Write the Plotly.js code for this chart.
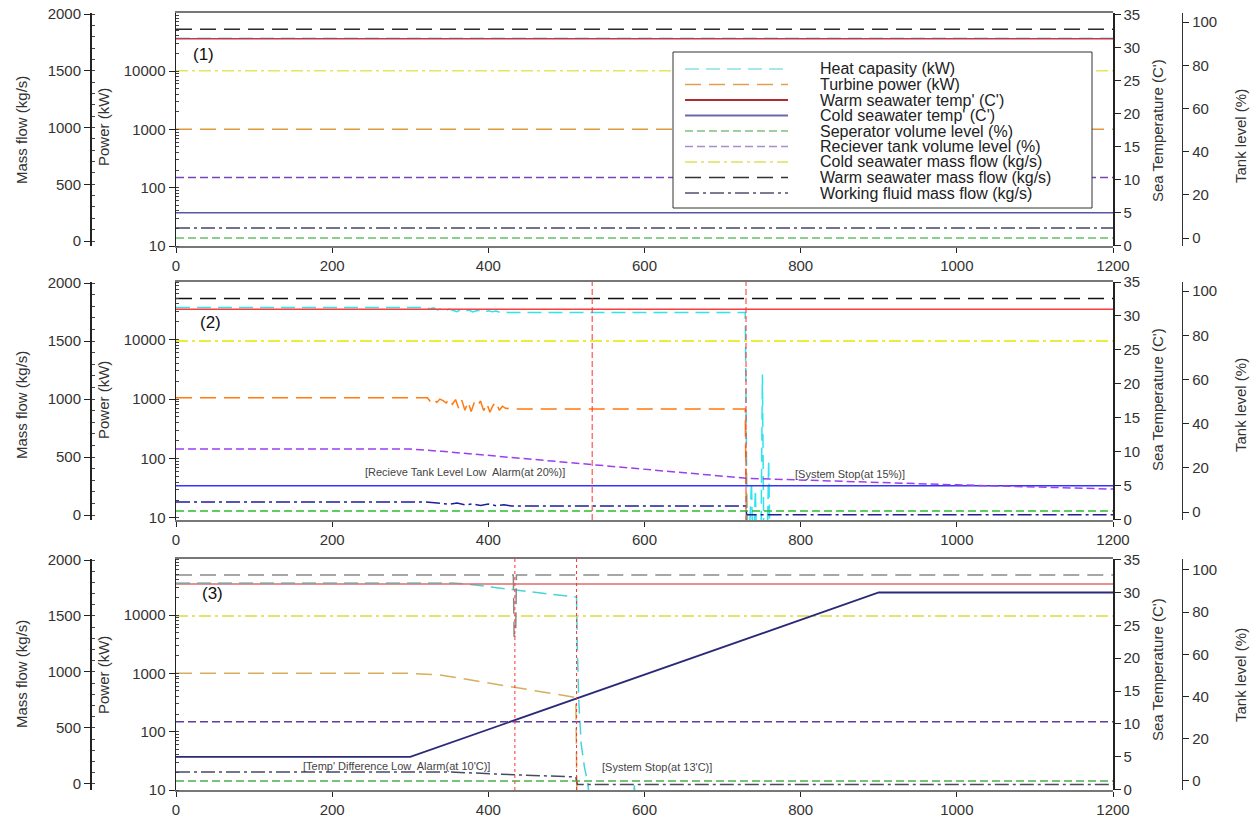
<!DOCTYPE html>
<html>
<head>
<meta charset="utf-8">
<script src="https://cdn.plot.ly/plotly-3.0.1.min.js"></script>
<style>html,body{margin:0;padding:0;background:#fff}#chart{width:1257px;height:818px}</style>
</head>
<body>
<div id="chart"></div>
<script>
// ---------------- DATA ----------------
const seriesNames = ['Heat capasity (kW)', 'Turbine power (kW)', "Warm seawater temp' (C')", "Cold seawater temp' (C')",
  'Seperator volume level (%)', 'Reciever tank volume level (%)', 'Cold seawater mass flow (kg/s)',
  'Warm seawater mass flow (kg/s)', 'Working fluid mass flow (kg/s)'];
const seriesAxis = ['power', 'power', 'temp', 'temp', 'tank', 'tank', 'mass', 'mass', 'mass'];

// Panel (1): normal operation
const p1_t = [0, 1200];
const p1_heat = [36500, 36500];
const p1_turbine = [1000, 1000];
const p1_warmTemp = [31.4, 31.4];
const p1_coldTemp = [5, 5];
const p1_separator = [0, 0];
const p1_receiver = [28, 28];
const p1_coldFlow = [1500, 1500];
const p1_warmFlow = [1865, 1865];
const p1_workFlow = [114, 114];

// Panel (2): receiver tank level drop
const p2_heat_t = [0, 320, 325, 330, 335, 340, 345, 350, 355, 360, 365, 370, 375, 380, 385, 390, 395, 400, 405, 410, 415, 420, 425, 432, 729, 731, 733, 737, 739, 742, 744, 749, 751, 753, 757, 759, 761, 1200];
const p2_heat = [34600, 34600, 33000, 34200, 31500, 33600, 30500, 32600, 31000, 29600, 32000, 30000, 31600, 29200, 30600, 31000, 29000, 30600, 29500, 30200, 28800, 29600, 28600, 28500, 28500, 30, 2, 40, 2, 30, 2, 2, 2600, 2, 2, 95, 2, 2];
const p2_turbine_t = [0, 322, 326, 330, 334, 338, 342, 346, 350, 354, 358, 362, 366, 370, 374, 378, 382, 386, 390, 394, 398, 402, 406, 410, 414, 418, 422, 428, 432, 729, 731, 1200];
const p2_turbine = [1050, 1050, 900, 1020, 880, 1000, 940, 860, 1010, 820, 980, 700, 960, 650, 900, 620, 880, 760, 930, 640, 850, 600, 780, 900, 650, 760, 700, 680, 680, 680, 2, 2];
const p2_t = [0, 1200];
const p2_warmTemp = [31.0, 31.0];
const p2_coldTemp = [5, 5];
const p2_separator = [0.5, 0.5];
const p2_receiver_t = [0, 300, 340, 533, 730, 1000, 1200];
const p2_receiver = [28.5, 28.5, 27.5, 21.5, 15.3, 12.3, 10.4];
const p2_coldFlow = [1500, 1500];
const p2_warmFlow = [1866, 1866];
const p2_workFlow_t = [0, 320, 340, 350, 360, 370, 380, 390, 400, 410, 420, 430, 729, 731, 1200];
const p2_workFlow = [112, 112, 100, 92, 104, 88, 96, 82, 94, 80, 88, 78, 78, 3, 3];
const p2_alarms = [533, 730];
const p2_alarmText = ['[Recieve Tank Level Low  Alarm(at 20%)]', '[System Stop(at 15%)]'];

// Panel (3): cold seawater temperature rise
const p3_heat_t = [0, 355, 380, 400, 434, 470, 510, 513, 514, 516, 519, 523, 527, 531, 585, 587, 589, 1200];
const p3_heat = [35400, 35400, 33000, 30500, 26900, 23500, 20500, 20300, 2500, 300, 60, 25, 14, 5, 5, 12, 5, 5];
const p3_turbine_t = [0, 300, 340, 434, 512, 514, 1200];
const p3_turbine = [1000, 1000, 930, 575, 385, 2, 2];
const p3_t = [0, 1200];
const p3_warmTemp = [31.3, 31.3];
const p3_coldTemp_t = [0, 300, 900, 1200];
const p3_coldTemp = [5, 5, 30, 30];
const p3_separator = [0, 0];
const p3_receiver = [28, 28];
const p3_coldFlow = [1500, 1500];
const p3_warmFlow_t = [0, 432, 433, 435, 436, 1200];
const p3_warmFlow = [1866, 1866, 1320, 1320, 1866, 1866];
const p3_workFlow_t = [0, 350, 434, 512, 514, 1200];
const p3_workFlow = [107, 107, 82, 62, -5, -5];
const p3_alarms = [434, 513];
const p3_alarmText = ["[Temp' Difference Low  Alarm(at 10'C)]", "[System Stop(at 13'C)]"];

const xTickLabels = ['0', '200', '400', '600', '800', '1000', '1200'];

// ---------------- STYLE ----------------
const W = 1257, H = 818;
const px = v => v / W;
const py = v => 1 - v / H;
const FONT = 'Liberation Sans, Arial, sans-serif';
const dashes = ['14px,7px', '16px,8px', 'solid', 'solid', '8px,4px', '8px,4px', '12px,4px,3px,4px', '16px,8px', '14px,4px,3px,4px'];
const colors1 = ['#7ad8dc', '#e09a3c', '#c0394a', '#5656a8', '#68bd68', '#7a44b4', '#e6e65a', '#2a2a2a', '#45456e'];
const colors2 = ['#30e4ec', '#ff7a10', '#ff3c3c', '#3434ff', '#2ebc2e', '#9a40f0', '#e6e600', '#111111', '#1e1e9c'];
const colors3 = ['#48d4dc', '#d8ae5c', '#e06a6a', '#2a2a78', '#4cae4c', '#5e3e9e', '#dcdc3c', '#8a8a8a', '#4a4a5e'];
const legendColors = ['#8ee0e4', '#e0a050', '#b02a30', '#6a6aa8', '#80c080', '#a58fc8', '#e0e060', '#333333', '#505070'];

const panels = [
  {top: 13, bottom: 246, power: [1, 4.995], mass: [-44, 2009], temp: [-0.05, 35.3], tank: [-3.7, 104.2], colors: colors1,
   data: [[p1_t, p1_heat], [p1_t, p1_turbine], [p1_t, p1_warmTemp], [p1_t, p1_coldTemp], [p1_t, p1_separator], [p1_t, p1_receiver], [p1_t, p1_coldFlow], [p1_t, p1_warmFlow], [p1_t, p1_workFlow]],
   alarms: [], alarmText: [], label: '(1)', labelPos: [203, 55], titleY: [130, 127, 131, 136]},
  {top: 282, bottom: 520, power: [0.966, 4.97], mass: [-43, 2009], temp: [-0.05, 35], tank: [-3.6, 104.1], colors: colors2,
   data: [[p2_heat_t, p2_heat], [p2_turbine_t, p2_turbine], [p2_t, p2_warmTemp], [p2_t, p2_coldTemp], [p2_t, p2_separator], [p2_receiver_t, p2_receiver], [p2_t, p2_coldFlow], [p2_t, p2_warmFlow], [p2_workFlow_t, p2_workFlow]],
   alarms: p2_alarms, alarmText: p2_alarmText, alarmTextPos: [[465, 472], [850, 474]], alarmDash: '6px,3px', label: '(2)', labelPos: [210, 322], titleY: [405, 400, 400, 405]},
  {top: 559, bottom: 790, power: [1, 4.96], mass: [-54, 2009], temp: [-0.05, 35.1], tank: [-4.3, 105.2], colors: colors3,
   data: [[p3_heat_t, p3_heat], [p3_turbine_t, p3_turbine], [p3_t, p3_warmTemp], [p3_coldTemp_t, p3_coldTemp], [p3_t, p3_separator], [p3_t, p3_receiver], [p3_t, p3_coldFlow], [p3_warmFlow_t, p3_warmFlow], [p3_workFlow_t, p3_workFlow]],
   alarms: p3_alarms, alarmText: p3_alarmText, alarmTextPos: [[396, 766], [657, 767]], alarmDash: 'dot', label: '(3)', labelPos: [212, 593], titleY: [674, 675, 670, 675]}
];

const tickFont = {family: FONT, size: 15, color: '#333'};
const layout = {
  width: W, height: H, margin: {l: 0, r: 0, t: 0, b: 0},
  paper_bgcolor: '#fff', plot_bgcolor: 'rgba(0,0,0,0)', showlegend: false,
  shapes: [], annotations: []
};
const traces = [];
const yId = i => i === 1 ? 'y' : 'y' + i;
const yName = i => i === 1 ? 'yaxis' : 'yaxis' + i;

panels.forEach((P, p) => {
  const xId = p === 0 ? 'x' : 'x' + (p + 1);
  const xName = p === 0 ? 'xaxis' : 'xaxis' + (p + 1);
  const base = 4 * p + 1;
  const ids = {power: base, mass: base + 1, temp: base + 2, tank: base + 3};
  layout[xName] = {domain: [px(176), px(1113)], anchor: yId(base), range: [0, 1200],
    tickmode: 'array', tickvals: xTickLabels.map(Number), ticktext: xTickLabels,
    ticks: 'outside', ticklen: 5, tickcolor: '#222', showline: true, mirror: true, linecolor: '#777', linewidth: 2,
    showgrid: false, zeroline: false, tickfont: tickFont, fixedrange: true};
  layout[yName(ids.power)] = {domain: [py(P.bottom), py(P.top)], anchor: xId, type: 'log', range: P.power,
    dtick: 1, tickformat: 'd', ticks: 'outside', ticklen: 6, tickcolor: '#222',
    minor: {ticks: 'inside', ticklen: 3, tickcolor: '#444', showgrid: false},
    showline: true, linecolor: '#222', linewidth: 1.5, showgrid: false, zeroline: false, tickfont: tickFont, fixedrange: true};
  layout[yName(ids.mass)] = {overlaying: yId(base), anchor: 'free', position: px(90), side: 'left', range: P.mass,
    dtick: 500, tick0: 0, ticks: 'outside', ticklen: 6, tickcolor: '#222',
    minor: {ticks: 'inside', dtick: 100, ticklen: 3, tickcolor: '#444', showgrid: false},
    showline: true, linecolor: '#222', linewidth: 1.5, showgrid: false, zeroline: false, tickfont: tickFont, fixedrange: true};
  layout[yName(ids.temp)] = {overlaying: yId(base), anchor: 'free', position: px(1113), side: 'right', range: P.temp,
    dtick: 5, tick0: 0, ticks: 'outside', ticklen: 6, tickcolor: '#222',
    showline: true, linecolor: '#222', linewidth: 1.5, showgrid: false, zeroline: false, tickfont: tickFont, fixedrange: true};
  layout[yName(ids.tank)] = {overlaying: yId(base), anchor: 'free', position: px(1182), side: 'right', range: P.tank,
    dtick: 20, tick0: 0, ticks: 'outside', ticklen: 6, tickcolor: '#222',
    showline: true, linecolor: '#333', linewidth: 1.2, showgrid: false, zeroline: false, tickfont: tickFont, fixedrange: true};

  P.data.forEach((d, s) => {
    traces.push({x: d[0], y: d[1], xaxis: xId, yaxis: yId(ids[seriesAxis[s]]), mode: 'lines', name: seriesNames[s],
      line: {color: P.colors[s], dash: dashes[s], width: (p === 2 && s === 3) ? 1.8 : 1.5}, hoverinfo: 'skip', showlegend: false});
  });

  P.alarms.forEach((a, k) => {
    layout.shapes.push({type: 'line', xref: xId, yref: yId(base) + ' domain', x0: a, x1: a, y0: 0, y1: 1,
      line: {color: '#ff3030', width: 1, dash: P.alarmDash}, layer: 'above'});
    layout.annotations.push({xref: 'paper', yref: 'paper', x: px(P.alarmTextPos[k][0]), y: py(P.alarmTextPos[k][1]),
      text: P.alarmText[k], showarrow: false, xanchor: 'center', yanchor: 'middle', font: {family: FONT, size: 11, color: '#444'}});
  });

  layout.annotations.push({xref: 'paper', yref: 'paper', x: px(P.labelPos[0]), y: py(P.labelPos[1]), text: P.label,
    showarrow: false, xanchor: 'center', yanchor: 'middle', font: {family: FONT, size: 17, color: '#111'}});

  const titles = [['Mass flow (kg/s)', 21], ['Power (kW)', 103], ["Sea Temperature (C')", 1157], ['Tank level (%)', 1240]];
  titles.forEach((tt, k) => {
    layout.annotations.push({xref: 'paper', yref: 'paper', x: px(tt[1]), y: py(P.titleY[k]), text: tt[0], textangle: -90,
      showarrow: false, xanchor: 'center', yanchor: 'middle', font: {family: FONT, size: 15, color: '#333'}});
  });
});

// Legend (drawn in panel 1)
const LG = {left: 673, top: 52, right: 1092, bottom: 208, lineX0: 685, lineX1: 788, textX: 818, firstY: 69, step: 15.5};
layout.shapes.push({type: 'rect', xref: 'paper', yref: 'paper', x0: px(LG.left), x1: px(LG.right), y0: py(LG.bottom), y1: py(LG.top),
  fillcolor: '#fff', line: {color: '#333', width: 1}, layer: 'above'});
seriesNames.forEach((n, i) => {
  const yy = py(LG.firstY + i * LG.step);
  layout.shapes.push({type: 'line', xref: 'paper', yref: 'paper', x0: px(LG.lineX0), x1: px(LG.lineX1), y0: yy, y1: yy,
    line: {color: legendColors[i], width: (i === 2 || i === 3) ? 2 : 1.5, dash: dashes[i]}, layer: 'above'});
  layout.annotations.push({xref: 'paper', yref: 'paper', x: px(LG.textX), y: yy, text: n, showarrow: false,
    xanchor: 'left', yanchor: 'middle', font: {family: FONT, size: 16, color: '#222'}});
});

Plotly.newPlot('chart', traces, layout, {displayModeBar: false, staticPlot: true});
</script>
</body>
</html>
